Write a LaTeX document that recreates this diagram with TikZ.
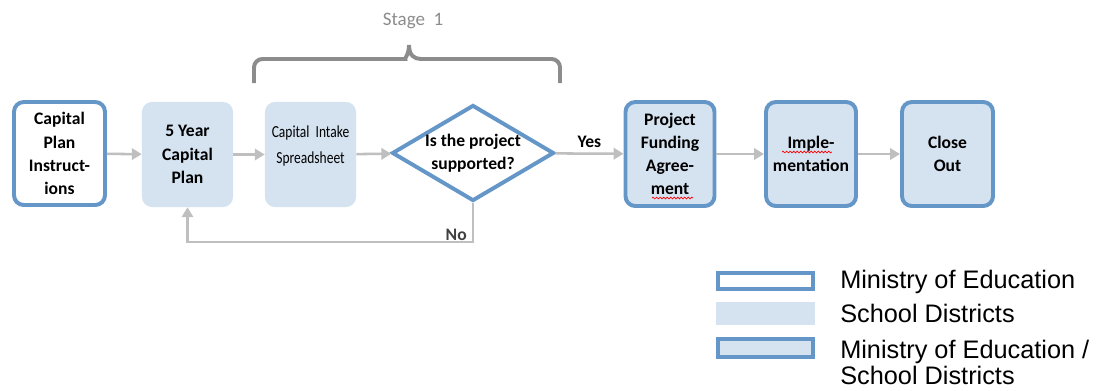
\documentclass[tikz,border=0pt]{standalone}
\usepackage{fontspec}
\setmainfont{Carlito}
\newfontfamily\legendfont{Liberation Sans}
\newfontfamily\condfont[FakeStretch=0.8]{Carlito}
\usepackage{tikz}
\usetikzlibrary{shapes.geometric, arrows.meta, positioning, decorations.pathmorphing}
\definecolor{minblue}{RGB}{100,150,200}
\definecolor{sdfill}{RGB}{213,226,240}
\definecolor{flowgray}{RGB}{191,191,191}
\definecolor{bracegray}{RGB}{140,140,140}

\begin{document}
\begin{tikzpicture}[x=0.025cm, y=-0.025cm,
  boxtext/.style={align=center, inner sep=0pt, font=\fontsize{12.5}{16.5}\selectfont\bfseries},
  ministry/.style={boxtext, draw=minblue, line width=2.8pt, fill=white, rounded corners=7pt},
  district/.style={boxtext, fill=sdfill, rounded corners=7pt},
  shared/.style={boxtext, draw=minblue, line width=2.8pt, fill=sdfill, rounded corners=7pt},
  flow/.style={draw=flowgray, line width=1.8pt, -{Triangle[length=7pt,width=8pt]}},
  legtext/.style={anchor=base west, inner sep=0pt, font=\legendfont\fontsize{18}{20.6}\selectfont},
  squiggle/.style={red, line width=0.5pt, decorate, decoration={snake, amplitude=0.6pt, segment length=2.5pt}}]
  \useasboundingbox (0,0) rectangle (1096,390);
  % stage brace
  \draw[bracegray, line width=2.8pt] (254,83) [rounded corners=6pt] -- (254,59) -- (397,59) [sharp corners]
    .. controls (404,59) and (409,55) .. (409,45)
    .. controls (409,55) and (414,59) .. (421,59) [rounded corners=6pt] -- (560,59) -- (560,83);
  \node[text=bracegray, font=\fontsize{13.5}{15}\selectfont] (stage) at (413,21) {Stage\ \ 1};
  % flow boxes
  \node[ministry, minimum width=2.275cm, minimum height=2.575cm] (instr) at (59.5,153.5) {Capital\\Plan\\Instruct-\\ions};
  \node[district, minimum width=2.275cm, minimum height=2.625cm] (plan) at (187.5,154.5) {5 Year\\Capital\\Plan};
  \node[district, minimum width=2.275cm, minimum height=2.625cm] (intake) at (310.5,154.5) {};
  \node[align=center, inner sep=0pt, font=\condfont\fontsize{12}{17.8}\selectfont] (intaketext) at (310.5,146) {Capital\ \ Intake\\Spreadsheet};
  \node[diamond, aspect=1.68, draw=minblue, line width=2.8pt, fill=white, boxtext,
        minimum width=4.05cm, minimum height=2.4cm] (decide) at (473,153) {Is the project\\supported?};
  \node[shared, minimum width=2.225cm, minimum height=2.6cm] (fund) at (670,154) {Project\\Funding\\Agree-\\ment};
  \node[shared, minimum width=2.25cm, minimum height=2.6cm] (impl) at (811,154) {Imple-\\mentation};
  \node[shared, minimum width=2.275cm, minimum height=2.6cm] (close) at (947.5,154) {Close\\Out};
  % spelling marks
  \draw[squiggle] (782,152) -- (832,152);
  \draw[squiggle] (652,198) -- (693,198);
  % arrows
  \draw[flow] (instr) -- (plan);
  \draw[flow] (plan) -- (intake);
  \draw[flow] (intake) -- (decide);
  \draw[flow] (decide) -- node[above, font=\fontsize{12.5}{15}\selectfont\bfseries, inner sep=3pt] (yes) {Yes} (fund);
  \draw[flow] (fund) -- (impl);
  \draw[flow] (impl) -- (close);
  % no loop
  \coordinate (loopbase) at (0,242);
  \coordinate (loopcorner) at (decide.south |- loopbase);
  \draw[flow] (decide.south) -- (loopcorner) -| (plan.south);
  \node[anchor=base east, inner sep=0pt, text=black!75, font=\fontsize{12.5}{15}\selectfont\bfseries] (no) at ([xshift=-0.15cm, yshift=0.03cm]loopcorner) {No};
  % legend
  \node[draw=minblue, line width=2.8pt, fill=white, minimum width=2.375cm, minimum height=0.4cm, inner sep=0pt] (keyministry) at (765.5,281) {};
  \node[fill=sdfill, minimum width=2.475cm, minimum height=0.575cm, inner sep=0pt] (keydistrict) at (765.5,313.5) {};
  \node[draw=minblue, line width=2.8pt, fill=sdfill, minimum width=2.375cm, minimum height=0.45cm, inner sep=0pt] (keyshared) at (765.5,348) {};
  \node[legtext] (txtministry) at (840,288) {Ministry of Education};
  \node[legtext] (txtdistrict) at (840,322) {School Districts};
  \node[legtext] (txtshared) at (840,358) {Ministry of Education /};
  \node[legtext] (txtshared2) at (840,384) {School Districts};
\end{tikzpicture}
\end{document}
